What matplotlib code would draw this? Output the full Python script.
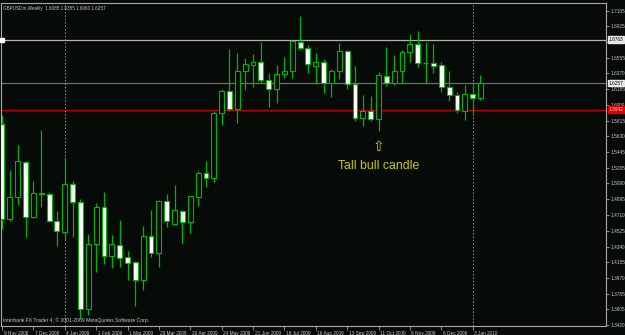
import matplotlib
matplotlib.use("Agg")
import matplotlib.pyplot as plt
import matplotlib.transforms as mtransforms

# ---------------- data ----------------
header_text = "GBPUSDm,Weekly  1.6085 1.6355 1.6060 1.6257"
footer_text = "Interbank FX Trader 4, \u00a9 2001-2009 MetaQuotes Software Corp."

opens = [1.5777, 1.4659, 1.4917, 1.5331, 1.4690, 1.4971, 1.4959, 1.4639, 1.4507, 1.5070,
         1.4859, 1.3604, 1.4373, 1.4803, 1.4225, 1.4361, 1.4214, 1.4155, 1.3944, 1.4460,
         1.4268, 1.4874, 1.4601, 1.4760, 1.4631, 1.4917, 1.5199, 1.5140, 1.5902, 1.6160,
         1.5956, 1.6402, 1.6465, 1.6500, 1.6292, 1.6183, 1.6359, 1.6394, 1.6742, 1.6668,
         1.6457, 1.6500, 1.6254, 1.6402, 1.6636, 1.6242, 1.5847, 1.5926, 1.5832, 1.6339,
         1.6261, 1.6402, 1.6617, 1.6715, 1.6490, 1.6488, 1.6465, 1.6214, 1.6120, 1.5933,
         1.6128, 1.6085]
highs = [1.5882, 1.5237, 1.5527, 1.5340, 1.5108, 1.5706, 1.4979, 1.4757, 1.5386, 1.5108,
         1.4897, 1.4487, 1.4847, 1.4979, 1.4472, 1.4651, 1.4291, 1.4170, 1.4584, 1.4768,
         1.4886, 1.4952, 1.5058, 1.4768, 1.4929, 1.5222, 1.5343, 1.5926, 1.6183, 1.6656,
         1.6606, 1.6550, 1.6594, 1.6738, 1.6371, 1.6465, 1.6566, 1.6762, 1.7043, 1.6699,
         1.6613, 1.6535, 1.6418, 1.6730, 1.6644, 1.6457, 1.6113, 1.6105, 1.6386, 1.6683,
         1.6589, 1.6644, 1.6832, 1.6864, 1.6738, 1.6715, 1.6500, 1.6394, 1.6152, 1.6230,
         1.6230, 1.6355]
lows = [1.4546, 1.4643, 1.4830, 1.4455, 1.4671, 1.4807, 1.4631, 1.4346, 1.4417, 1.4455,
        1.3490, 1.3537, 1.4045, 1.4132, 1.4085, 1.4103, 1.3948, 1.3643, 1.3830, 1.4221,
        1.4103, 1.4572, 1.4592, 1.4385, 1.4502, 1.4815, 1.5041, 1.5100, 1.5768, 1.5929,
        1.5792, 1.6175, 1.6207, 1.6261, 1.5976, 1.6019, 1.6312, 1.6312, 1.6644, 1.6378,
        1.6261, 1.6137, 1.6097, 1.6308, 1.6190, 1.5808, 1.5753, 1.5808, 1.5698, 1.6222,
        1.6237, 1.6254, 1.6504, 1.6448, 1.6261, 1.6371, 1.6152, 1.6043, 1.5909, 1.5824,
        1.5902, 1.6060]
closes = [1.4663, 1.4921, 1.5346, 1.4690, 1.4971, 1.4956, 1.4643, 1.4519, 1.5070, 1.4866,
          1.3604, 1.4366, 1.4803, 1.4229, 1.4366, 1.4205, 1.4150, 1.3944, 1.4467, 1.4268,
          1.4874, 1.4643, 1.4768, 1.4631, 1.4927, 1.5199, 1.5140, 1.5902, 1.6160, 1.5956,
          1.6402, 1.6477, 1.6500, 1.6292, 1.6183, 1.6359, 1.6394, 1.6753, 1.6668, 1.6480,
          1.6500, 1.6261, 1.6402, 1.6636, 1.6246, 1.5847, 1.5926, 1.5835, 1.6348, 1.6254,
          1.6402, 1.6617, 1.6711, 1.6488, 1.6490, 1.6460, 1.6207, 1.6117, 1.5941, 1.6128,
          1.6078, 1.6257]

date_labels = ["9 Nov 2008", "7 Dec 2008", "4 Jan 2009", "1 Feb 2009", "1 Mar 2009",
               "29 Mar 2009", "26 Apr 2009", "24 May 2009", "21 Jun 2009", "19 Jul 2009",
               "16 Aug 2009", "13 Sep 2009", "11 Oct 2009", "8 Nov 2009", "6 Dec 2009",
               "3 Jan 2010"]
date_label_bars = [0, 4, 8, 12, 16, 20, 24, 28, 32, 36, 40, 44, 48, 52, 56, 60]

price_labels = ["1.7105", "1.6925", "1.6740", "1.6555", "1.6370", "1.6185", "1.6000",
                "1.5815", "1.5630", "1.5445", "1.5265", "1.5080", "1.4895", "1.4710",
                "1.4525", "1.4340", "1.4155", "1.3970", "1.3785", "1.3605", "1.3420"]

line_white = 1.6763
line_bid = 1.6257
line_red = 1.5942
separator_bars = [8, 60]
annot_bar = 48
annot_text = "Tall bull candle"

# ---------------- style ----------------
BG = "#060b07"
GREEN = "#00b400"
TXT = "#c8c8c8"
FONT = "Liberation Sans"
FS = 3.4

fig = plt.figure(figsize=(6.25, 3.35), dpi=100, facecolor=BG)
ax = fig.add_axes([1.3 / 625, 1 - 326 / 335, (606 - 1.3) / 625, (326 - 3) / 335])
ax.set_facecolor(BG)

n = len(opens)
xs = list(range(n))
w = 0.62

# wicks
ax.vlines(xs, lows, highs, color=GREEN, linewidth=0.9, zorder=2)
# bodies
for i in xs:
    o, c = opens[i], closes[i]
    bottom = min(o, c)
    h = abs(c - o)
    fill = "white" if c < o else BG
    if h < 0.0004:
        ax.hlines(o, i - w / 2, i + w / 2, color=GREEN, linewidth=1.0, zorder=3)
    else:
        ax.bar(i, h, bottom=bottom, width=w, color=fill, edgecolor=GREEN,
               linewidth=0.8, zorder=3)

# horizontal lines
ax.axhline(line_white, color="#b4b4b4", linewidth=0.9, zorder=1)
ax.axhline(line_bid, color="#6e6e6e", linewidth=0.9, zorder=1)
ax.axhline(line_red, color="#b40000", linewidth=1.0, zorder=1)
ax.plot([-0.05], [line_white], "s", ms=2.6, color="white", clip_on=False, zorder=5)

# period separators
for b in separator_bars:
    ax.axvline(b, color="#9a9a9a", linewidth=0.7, linestyle=(0, (1.5, 2)), zorder=1)

ax.set_xlim(-0.09, 77.0)
ax.set_ylim(1.3408, 1.7195)

# y axis on right
ax.yaxis.tick_right()
ax.set_yticks([float(p) for p in price_labels])
ax.set_yticklabels(price_labels)
ax.tick_params(axis="y", direction="out", length=2, width=0.6, color="#a0a0a0",
               labelsize=FS, labelcolor=TXT, pad=1.5)
for lab in ax.get_yticklabels():
    lab.set_family(FONT)

# x axis
ax.set_xticks(date_label_bars)
ax.set_xticklabels(date_labels, ha="left")
ax.tick_params(axis="x", direction="out", length=3, width=0.6, color="#a0a0a0",
               labelsize=FS, labelcolor=TXT, pad=0.6)
offset = mtransforms.ScaledTranslation(1.5 / 100, 0, fig.dpi_scale_trans)
for lab in ax.get_xticklabels():
    lab.set_family(FONT)
    lab.set_transform(lab.get_transform() + offset)

for s in ax.spines.values():
    s.set_color("#a8a8a8")
    s.set_linewidth(0.8)

# boxed price labels on the axis
trans = mtransforms.blended_transform_factory(ax.transAxes, ax.transData)
box_x = 1.0045
ax.text(box_x, line_white, "%.4f" % line_white, transform=trans, fontsize=FS,
        family=FONT, color="black", va="center", ha="left", clip_on=False, zorder=10,
        bbox=dict(boxstyle="square,pad=0.2", fc="#e8e8e8", ec="#e8e8e8"))
ax.text(box_x, line_bid, "%.4f" % line_bid, transform=trans, fontsize=FS,
        family=FONT, color="black", va="center", ha="left", clip_on=False, zorder=10,
        bbox=dict(boxstyle="square,pad=0.2", fc="#e8e8e8", ec="#e8e8e8"))
ax.text(box_x, line_red, "%.4f" % line_red, transform=trans, fontsize=FS,
        family=FONT, color="#ffd0d0", va="center", ha="left", clip_on=False, zorder=10,
        bbox=dict(boxstyle="square,pad=0.2", fc="#e00000", ec="#e00000"))

# header & footer
ax.text(0.003, 0.99, header_text, transform=ax.transAxes, fontsize=3.3, family=FONT,
        color=TXT, va="top", ha="left")
ax.text(0.003, 0.008, footer_text, transform=ax.transAxes, fontsize=3.6, family=FONT,
        color=TXT, va="bottom", ha="left")

# annotation
ann_y = lows[annot_bar]
ax.annotate("\u21e7", xy=(annot_bar, ann_y), xytext=(0, -11.5), textcoords="offset points",
            ha="center", va="center", fontsize=10, color="#d2c800", family="DejaVu Sans")
ax.annotate(annot_text, xy=(annot_bar, ann_y), xytext=(0, -25.5), textcoords="offset points",
            ha="center", va="center", fontsize=8.8, color="#d2c800", family=FONT)

fig.savefig("out.png", dpi=100, facecolor=BG)
